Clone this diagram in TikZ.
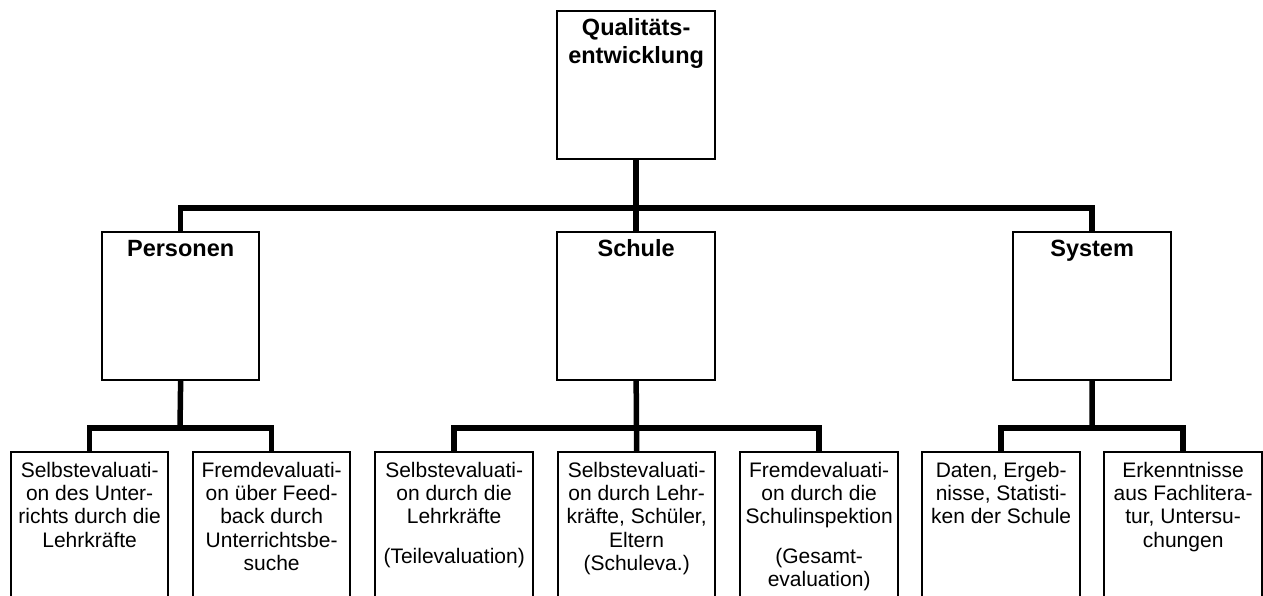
\documentclass[tikz,border=0pt]{standalone}
\usepackage{fontspec}
\setmainfont{Liberation Sans}
\begin{document}
\begin{tikzpicture}[x=1pt,y=-1pt,
  box/.style={draw=black,line width=1.3pt,fill=white,minimum width=#1,inner sep=0pt,anchor=north west},
  conn/.style={line width=5.5pt,line join=miter},
  head/.style={anchor=north,inner sep=0pt,align=center,font=\fontsize{23.5}{28}\selectfont\bfseries},
  txt/.style={anchor=north,inner sep=0pt,align=center,font=\fontsize{21}{23.3}\selectfont}]
\useasboundingbox (0,0) rectangle (1263,596);
\clip (0,0) rectangle (1263,596);
\fill[white] (0,0) rectangle (1263,596);
% boxes
\node[box=157pt,minimum height=147pt] (q) at (557,11) {};
\node[box=156pt,minimum height=147pt] (p) at (102,232) {};
\node[box=157pt,minimum height=147pt] (s) at (557,232) {};
\node[box=157pt,minimum height=147pt] (y) at (1013,232) {};
\node[box=156pt,minimum height=170pt] (b1) at (11,452) {};
\node[box=156pt,minimum height=170pt] (b2) at (193,452) {};
\node[box=157pt,minimum height=170pt] (b3) at (375,452) {};
\node[box=156pt,minimum height=170pt] (b4) at (558,452) {};
\node[box=157pt,minimum height=170pt] (b5) at (740,452) {};
\node[box=157pt,minimum height=170pt] (b6) at (922,452) {};
\node[box=157pt,minimum height=170pt] (b7) at (1104,452) {};
% connector junctions
\coordinate (t) at (636,208);
\coordinate (tp) at (180,428);
\coordinate (ts) at (636,428);
\coordinate (ty) at (1092,428);
% connectors
\draw[conn] (q.south) -- (s.north);
\draw[conn] (p.north) -- (p.north |- t) -- (y.north |- t) -- (y.north);
\draw[conn] (p.south) -- (tp);
\draw[conn] (b1.north) -- (b1.north |- tp) -- (b2.north |- tp) -- (b2.north);
\draw[conn] (s.south) -- (b4.north);
\draw[conn] (b3.north) -- (b3.north |- ts) -- (b5.north |- ts) -- (b5.north);
\draw[conn] (y.south) -- (ty);
\draw[conn] (b6.north) -- (b6.north |- ty) -- (b7.north |- ty) -- (b7.north);
% redraw box borders on top of connectors
\foreach \n in {q,p,s,y,b1,b2,b3,b4,b5,b6,b7}{\draw[line width=1.3pt] (\n.north west) rectangle (\n.south east);}
% texts
\node[head] (tq) at ([yshift=-6.7pt]q.north) {\rule{0pt}{18pt}Qualitäts-\\entwicklung};
\node[head] (tp1) at ([yshift=-6pt]p.north) {\rule{0pt}{18pt}Personen};
\node[head] (ts1) at ([yshift=-6pt]s.north) {\rule{0pt}{18pt}Schule};
\node[head] (ty1) at ([yshift=-6pt]y.north) {\rule{0pt}{18pt}System};
\node[txt] (t1) at ([yshift=-8pt]b1.north) {\rule{0pt}{17pt}Selbstevaluati-\\on des Unter-\\richts durch die\\Lehrkräfte};
\node[txt] (t2) at ([yshift=-8pt]b2.north) {\rule{0pt}{17pt}Fremdevaluati-\\on über Feed-\\back durch\\Unterrichtsbe-\\suche};
\node[txt] (t3) at ([yshift=-8pt]b3.north) {\rule{0pt}{17pt}Selbstevaluati-\\on durch die\\Lehrkräfte\\[16pt](Teilevaluation)};
\node[txt] (t4) at ([yshift=-8pt]b4.north) {\rule{0pt}{17pt}Selbstevaluati-\\on durch Lehr-\\kräfte, Schüler,\\Eltern\\(Schuleva.)};
\node[txt] (t5) at ([yshift=-8pt]b5.north) {\rule{0pt}{17pt}Fremdevaluati-\\on durch die\\Schulinspektion\\[16pt](Gesamt-\\evaluation)};
\node[txt] (t6) at ([yshift=-8pt]b6.north) {\rule{0pt}{17pt}Daten, Ergeb-\\nisse, Statisti-\\ken der Schule};
\node[txt] (t7) at ([yshift=-8pt]b7.north) {\rule{0pt}{17pt}Erkenntnisse\\aus Fachlitera-\\tur, Untersu-\\chungen};
\end{tikzpicture}
\end{document}
